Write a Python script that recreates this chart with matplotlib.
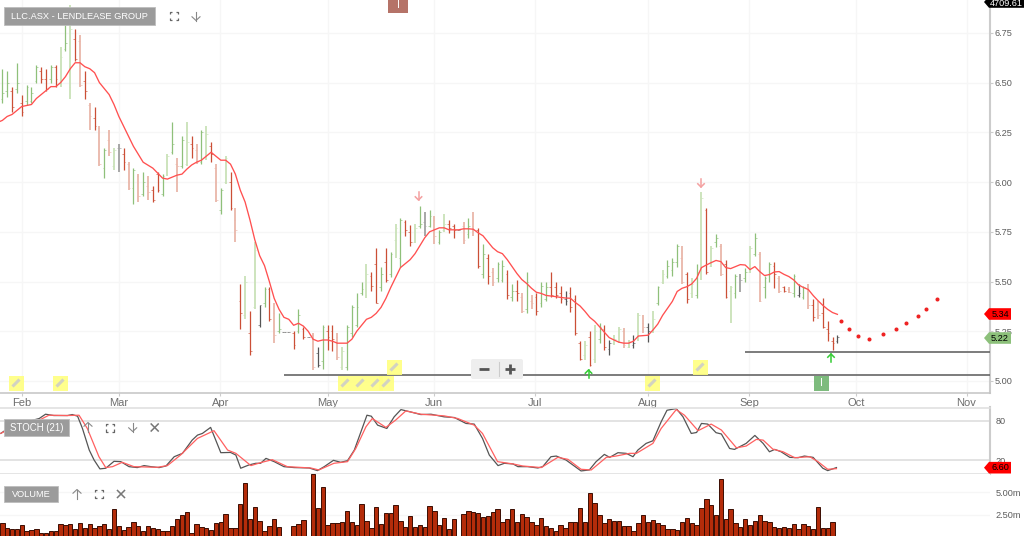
import numpy as np
import matplotlib
matplotlib.use("Agg")
import matplotlib.pyplot as plt
from matplotlib.patches import Rectangle, Polygon, FancyBboxPatch

plt.rcParams['font.family'] = ['Liberation Sans', 'DejaVu Sans']

# daily bars
high = [6.57,6.56,6.48,6.60,6.44,6.49,6.48,6.59,6.58,6.57,6.59,6.59,6.68,6.80,6.89,6.77,6.74,6.56,6.40,6.38,
        6.28,6.17,6.26,6.17,6.19,6.17,6.10,6.07,6.04,6.05,6.03,5.98,6.05,6.04,6.14,6.30,6.12,6.23,6.30,6.23,
        6.19,6.26,6.28,6.20,6.09,5.97,6.13,6.05,5.87,5.49,5.53,5.35,5.70,5.38,5.47,5.47,5.39,5.34,5.245,5.245,
        5.25,5.36,5.27,5.22,5.24,5.17,5.28,5.28,5.28,5.24,5.17,5.28,5.38,5.44,5.50,5.59,5.55,5.67,5.575,5.67,
        5.65,5.79,5.82,5.81,5.785,5.79,5.88,5.85,5.86,5.83,5.76,5.84,5.81,5.79,5.76,5.80,5.82,5.85,5.77,5.69,
        5.64,5.57,5.60,5.61,5.56,5.49,5.51,5.44,5.55,5.43,5.44,5.50,5.50,5.55,5.50,5.48,5.45,5.47,5.43,5.20,
        5.20,5.25,5.28,5.29,5.28,5.205,5.23,5.27,5.265,5.205,5.23,5.34,5.33,5.29,5.35,5.48,5.56,5.61,5.62,5.69,
        5.68,5.55,5.52,5.59,5.95,5.87,5.68,5.74,5.69,5.61,5.48,5.54,5.54,5.57,5.68,5.745,5.65,5.53,5.60,5.60,
        5.53,5.48,5.47,5.54,5.49,5.48,5.49,5.41,5.40,5.415,5.30,5.22,5.23]
low = [6.40,6.43,6.35,6.45,6.33,6.39,6.40,6.50,6.50,6.46,6.50,6.48,6.48,6.66,6.42,6.61,6.48,6.42,6.26,6.26,
       6.08,6.02,6.13,6.06,6.05,6.06,5.96,5.89,5.90,5.93,5.91,5.90,5.95,5.93,6.03,6.14,5.95,6.07,6.08,6.12,
       6.09,6.09,6.11,6.10,5.90,5.84,5.99,5.86,5.70,5.26,5.31,5.13,5.36,5.27,5.37,5.30,5.19,5.24,5.245,5.245,
       5.16,5.24,5.21,5.22,5.055,5.07,5.06,5.155,5.15,5.105,5.055,5.055,5.22,5.27,5.43,5.415,5.45,5.39,5.45,5.50,
       5.525,5.62,5.575,5.73,5.68,5.695,5.77,5.73,5.775,5.69,5.69,5.75,5.745,5.72,5.76,5.69,5.72,5.73,5.57,5.52,
       5.49,5.48,5.50,5.50,5.41,5.40,5.40,5.34,5.34,5.36,5.33,5.37,5.40,5.42,5.415,5.39,5.38,5.345,5.23,5.105,
       5.105,5.075,5.09,5.19,5.155,5.13,5.18,5.19,5.165,5.165,5.165,5.20,5.24,5.195,5.24,5.38,5.49,5.52,5.53,5.575,
       5.49,5.39,5.415,5.415,5.51,5.54,5.575,5.675,5.53,5.415,5.29,5.415,5.445,5.50,5.545,5.63,5.395,5.415,5.50,5.465,
       5.44,5.445,5.44,5.42,5.42,5.41,5.36,5.30,5.31,5.265,5.20,5.155,5.19]
opens = [6.42,6.46,6.46,6.47,6.40,6.41,6.41,6.51,6.56,6.52,6.52,6.58,6.50,6.67,6.48,6.72,6.71,6.51,6.39,6.32,
         6.27,6.07,6.21,6.08,6.17,6.14,6.09,5.97,6.03,5.94,5.98,5.96,6.04,5.94,6.04,6.15,6.09,6.08,6.09,6.19,
         6.16,6.10,6.13,6.18,6.07,5.86,6.00,6.00,5.81,5.40,5.33,5.24,5.37,5.28,5.39,5.46,5.34,5.25,5.245,5.245,
         5.24,5.25,5.26,5.22,5.23,5.14,5.10,5.25,5.25,5.22,5.07,5.07,5.24,5.28,5.44,5.43,5.53,5.59,5.47,5.60,
         5.54,5.71,5.62,5.80,5.75,5.70,5.78,5.80,5.78,5.81,5.70,5.76,5.79,5.78,5.76,5.78,5.74,5.78,5.76,5.54,
         5.62,5.55,5.52,5.51,5.54,5.42,5.45,5.42,5.36,5.40,5.42,5.39,5.41,5.47,5.47,5.44,5.41,5.44,5.41,5.19,
         5.13,5.22,5.11,5.21,5.26,5.16,5.19,5.20,5.25,5.17,5.18,5.21,5.29,5.27,5.25,5.39,5.50,5.53,5.56,5.60,
         5.62,5.54,5.44,5.43,5.69,5.86,5.58,5.70,5.68,5.59,5.45,5.44,5.53,5.52,5.55,5.64,5.64,5.47,5.54,5.58,
         5.52,5.47,5.46,5.44,5.43,5.42,5.47,5.38,5.36,5.34,5.26,5.20,5.20]
closes = [6.45,6.50,6.38,6.50,6.35,6.48,6.45,6.58,6.52,6.47,6.58,6.52,6.63,6.70,6.77,6.62,6.49,6.46,6.33,6.28,
          6.09,6.16,6.15,6.16,6.17,6.10,5.97,6.06,5.93,6.00,5.95,5.91,5.96,6.03,6.13,6.19,6.08,6.21,6.20,6.17,
          6.10,6.25,6.24,6.14,5.91,5.96,6.12,5.87,5.76,5.34,5.50,5.15,5.66,5.38,5.46,5.31,5.23,5.26,5.245,5.245,
          5.18,5.33,5.22,5.22,5.07,5.08,5.27,5.22,5.21,5.12,5.15,5.27,5.37,5.37,5.46,5.54,5.48,5.39,5.54,5.51,
          5.64,5.77,5.81,5.76,5.70,5.77,5.79,5.78,5.83,5.73,5.75,5.79,5.77,5.76,5.76,5.71,5.78,5.76,5.58,5.64,
          5.53,5.50,5.59,5.58,5.43,5.45,5.44,5.35,5.50,5.39,5.35,5.48,5.47,5.43,5.43,5.41,5.40,5.37,5.24,5.11,
          5.18,5.08,5.25,5.27,5.17,5.19,5.21,5.26,5.18,5.20,5.19,5.33,5.27,5.25,5.31,5.47,5.54,5.58,5.60,5.68,
          5.50,5.41,5.49,5.55,5.92,5.55,5.67,5.72,5.54,5.42,5.47,5.53,5.51,5.55,5.67,5.72,5.40,5.52,5.59,5.54,
          5.45,5.45,5.445,5.53,5.44,5.47,5.38,5.32,5.33,5.27,5.24,5.19,5.22]
ma_line = [6.30,6.31,6.33,6.34,6.36,6.38,6.385,6.39,6.42,6.44,6.46,6.48,6.48,6.50,6.53,6.57,6.60,6.60,6.58,6.57,6.55,
           6.50,6.47,6.44,6.39,6.33,6.28,6.23,6.18,6.14,6.10,6.085,6.07,6.045,6.02,6.015,6.025,6.035,6.04,6.065,6.086,
           6.10,6.11,6.13,6.15,6.13,6.11,6.11,6.09,6.04,5.96,5.90,5.81,5.71,5.63,5.58,5.50,5.415,5.36,5.32,5.31,
           5.28,5.29,5.276,5.25,5.21,5.20,5.206,5.206,5.20,5.19,5.19,5.19,5.21,5.25,5.28,5.31,5.32,5.34,5.37,5.415,
           5.47,5.52,5.57,5.59,5.61,5.64,5.68,5.72,5.75,5.76,5.77,5.77,5.76,5.76,5.76,5.765,5.765,5.763,5.745,5.73,
           5.70,5.67,5.65,5.64,5.61,5.575,5.54,5.51,5.49,5.466,5.446,5.44,5.43,5.427,5.424,5.42,5.417,5.416,5.395,5.377,
           5.35,5.32,5.30,5.273,5.245,5.218,5.206,5.195,5.19,5.19,5.20,5.226,5.228,5.23,5.256,5.286,5.33,5.365,5.40,5.45,
           5.466,5.474,5.488,5.516,5.57,5.583,5.595,5.606,5.60,5.57,5.565,5.575,5.585,5.583,5.56,5.575,5.55,5.53,5.535,5.548,
           5.55,5.536,5.525,5.508,5.483,5.47,5.46,5.43,5.404,5.38,5.36,5.344,5.335]
forecast_day = [172.7,174.4,176.3,178.6,181.3,184.1,186.2,188.6,190.3,192.5]
forecast_price = [5.303,5.263,5.228,5.21,5.236,5.26,5.29,5.328,5.364,5.41]
support_levels = [5.03, 5.146]
support_start = [58, 153]

volume = [1.53,1.04,.86,.86,1.38,.63,.74,.86,.48,.41,.63,.67,1.45,1.38,1.45,.93,1.53,1.0,1.45,1.0,
          1.26,1.45,.93,3.09,1.23,.74,1.15,1.71,1.23,.63,1.23,1.0,.93,.63,.71,1.19,2.05,2.45,2.79,.41,
          1.45,1.15,1.04,.74,1.53,1.71,2.57,1.0,1.0,3.65,6.07,1.97,3.31,1.82,.63,1.19,1.97,1.12,0,0,
          1.19,1.49,1.86,0,7.0,3.2,5.54,1.34,1.53,1.53,1.71,2.9,1.64,1.3,3.65,1.79,1.04,3.31,1.45,2.64,
          2.64,3.57,1.82,1.15,2.31,1.08,1.3,1.12,3.5,2.9,1.3,2.16,.93,1.97,0,2.53,2.9,2.79,2.72,2.2,
          2.34,2.75,3.09,1.71,1.97,3.16,1.67,2.57,2.2,1.64,1.3,2.16,1.19,.97,.67,1.38,.97,1.71,1.64,3.2,
          1.71,4.95,3.83,2.45,1.53,1.97,1.82,1.79,1.19,1.19,.71,1.53,2.49,1.67,1.86,1.53,1.3,.93,.93,.74,
          1.71,2.16,1.53,1.3,3.24,4.28,3.53,2.42,6.44,1.97,3.09,1.53,1.08,1.97,1.3,1.79,2.49,1.79,1.71,1.12,
          .97,1.12,.97,1.45,.93,1.45,1.19,.86,3.31,1.04,1.04,1.64,0]

stoch_k_day = [-0.3,0.7,3.8,7.6,8.9,10.6,13.4,14.4,15.5,16.5,17.9,18.9,20.1,21.3,23,24.4,26.1,27.8,29.2,30.6,32.3,33.7,
               35.4,37.1,39.1,40.2,41.2,42.9,45,47,48.1,49.1,50.8,52.2,53.2,54.3,56,58,60.1,63.2,64.9,66.3,68.2,69.7,
               71.1,72.5,75.1,76,77.3,79.2,80.7,82.1,83.8,86.2,88.3,91,93.1,95.5,97.2,98.9,100.3,102.1,103.4,105.2,
               106.2,108.2,110.3,111.3,113,114.1,116.1,119.2,120.9,122.3,124,125.1,126.8,128.5,129.9,130.9,132.6,134,
               135.7,136.9,138.8,140.2,141.9,143,144,145.3,147,148.1,149.8,150.8,153.2,155,156.7,158,159.1,160.4,162.2,
               163.9,165.2,167,169,170,171.8]
stoch_k = [61,66,76,83.5,90,88,88,89.5,87,68.4,35.6,20.5,7,8,18.5,18,10.4,9,12,10.4,9,11.4,
           25.5,30.6,50.7,58.3,60.8,70,31.6,32,28,8,13,15.5,15.5,23,18,10.4,9,8.4,4.4,10.4,20,17,
           19.5,35.6,88.5,87,73.4,68.4,86,97,94,89.5,90,86,85,76,75,53.3,28,12,15.5,14.5,
           10.4,10.4,8.4,10.4,25.5,26.5,20.5,3.9,5.4,18,29,24.5,31.6,30.6,25.5,35.6,45.7,49.7,
           78.5,96,98.6,86,60.8,62.3,76,75,62,60,38,36.6,45.7,57.8,45.7,33,36.6,33,24.5,
           24,26.5,24.5,8,4.4,9]
stoch_d_day = [-0.3,1.7,7.6,9.6,13.4,15.8,17.5,19.9,21.3,22.7,24.7,27.1,31.9,34,36.7,40.2,43.6,46.4,48.1,51.2,53.2,55.6,
               58.7,63.5,65.2,68.3,71.1,72.8,74.9,76.2,79,81,83.1,86.2,91,93.8,97.2,98.9,102,105.2,107.2,111,114.4,
               116.5,119.2,121.3,124.4,126.4,129.2,130.6,134,135.7,138.8,140.5,143.3,146,148.1,151.2,153.2,155.3,
               156.7,158.7,160.8,163.2,166.3,168,170,171.8]
stoch_d = [61,68.4,81,88.5,88,88.5,68.4,25.5,9,10.4,17,10.4,9.4,12,28,53.3,65,35.6,30.6,12,16.5,21,
           10.4,8.4,5.4,15.5,18,38,71,83.5,70,81,95,90,87.5,83.5,73.4,60.8,18,14.5,11.4,9,24.5,
           21.5,6.4,5.4,24.5,26.5,30.6,30.6,45.7,68.4,97,88.5,65,75,66,39,41.7,51.8,
           50.7,37,33,24,25.5,18,6.4,7.4]

month_labels = ['Feb','Mar','Apr','May','Jun','Jul','Aug','Sep','Oct','Nov']
month_days = [3.99,24,44.9,67,88.9,109.8,132.9,153.8,175.8,198.6]
price_ticks = [5.0,5.25,5.5,5.75,6.0,6.25,6.5,6.75]

# bars drawn paler / neutral on the source chart
soft_bars = {12,14,16,18,20,22,23,24,26,28,30,34,36,38,40,42,44,46,48,50,52,56,64,69,70,75,81,85,87,89,91,95,97,101,
             107,109,120,122,126,127,128,129,131,132,134,136,140,142,144,146,148,150,152,154,156,160,162,166,168}
neutral_bars = {24,53,58,59,63,65,87,94,116,125,130,133,152,164,172}

W, H = 1024, 536
XLIM = (-0.48, 203.43)
GRID = '#f6f6f6'
AXIS = '#cccccc'
TXT = '#6e6e6e'


def pane(top, bottom):
    return plt.gcf().add_axes([0, 1 - bottom / H, 990 / W, (bottom - top) / H])


fig = plt.figure(figsize=(W / 100, H / 100), dpi=100)

# ---- price pane ----
ax = pane(0, 392.7)
ax.set_xlim(*XLIM)
ax.set_ylim(4.941, 6.9155)
for d in month_days:
    ax.axvline(d, color=GRID, lw=1, zorder=0)
for p in price_ticks:
    ax.axhline(p, color=GRID, lw=1, zorder=0)

for i in range(len(high)):
    if i in neutral_bars:
        col = '#a0a0a0' if i in soft_bars else '#555555'
    elif closes[i] >= opens[i]:
        col = '#c9e2b8' if i in soft_bars else '#8fc07a'
    else:
        col = '#e9b6a9' if i in soft_bars else '#cb4f36'
    lw = 1.3 if i in soft_bars else 0.9
    if high[i] > low[i]:
        ax.vlines(i, low[i], high[i], color=col, lw=lw, zorder=2)
    ax.hlines(opens[i], i - 0.35, i, color=col, lw=0.6, alpha=0.75, zorder=2)
    ax.hlines(closes[i], i, i + 0.35, color=col, lw=0.6, alpha=0.75, zorder=2)

ax.plot(np.arange(-1, len(ma_line) - 1), ma_line, color='#ff5050', lw=0.95, zorder=3)
ax.plot(forecast_day, forecast_price, ls='none', marker='o', ms=1.9, color='#ee2222', zorder=3)
for lvl, start in zip(support_levels, support_start):
    ax.hlines(lvl, start, XLIM[1], color='#666666', lw=1.2, zorder=4)

ax.set_xticks(month_days)
ax.set_xticklabels(month_labels, fontsize=8, color=TXT)
ax.set_yticks(price_ticks)
ax.set_yticklabels([f'{p:.2f}' for p in price_ticks], fontsize=6.6, color='#5c5c5c')
ax.yaxis.tick_right()
ax.tick_params(axis='x', length=2, width=0.8, color=AXIS, pad=1.5)
ax.tick_params(axis='y', length=2, width=0.8, color=AXIS, pad=1.5)
for s in ['top', 'left']:
    ax.spines[s].set_visible(False)
ax.spines['right'].set_color(AXIS)
ax.spines['right'].set_linewidth(1.5)
ax.spines['bottom'].set_color('#c4c4c4')
ax.spines['bottom'].set_linewidth(1.1)

# ---- stochastic pane ----
ax2 = pane(407.5, 474.3)
ax2.set_xlim(*XLIM)
ax2.set_ylim(-1.2, 100.2)
for lvl in [20, 80]:
    ax2.axhline(lvl, color='#dedede', lw=1.2, zorder=0)
ax2.plot(stoch_k_day, stoch_k, color='#555555', lw=0.9, zorder=2)
ax2.plot(stoch_d_day, stoch_d, color='#ff6060', lw=0.9, zorder=3)
ax2.set_xticks([])
ax2.set_yticks([20, 80])
ax2.set_yticklabels(['20', '80'], fontsize=6.6, color='#5c5c5c')
ax2.yaxis.tick_right()
ax2.tick_params(axis='y', length=0, pad=4)
ax2.spines['left'].set_visible(False)
for s in ['top', 'bottom']:
    ax2.spines[s].set_color('#dedede')
    ax2.spines[s].set_linewidth(1.1)
ax2.spines['right'].set_color(AXIS)
ax2.spines['right'].set_linewidth(1.5)

# ---- volume pane ----
ax3 = pane(474, 536)
ax3.set_xlim(*XLIM)
ax3.set_ylim(0.11, 7.03)
for lvl in [2.5, 5.0]:
    ax3.axhline(lvl, color=GRID, lw=1, zorder=0)
ax3.bar(np.arange(len(volume)), volume, width=0.9, color='#b42c0a', edgecolor='#3b0d02', linewidth=0.7, zorder=2)
ax3.set_xticks([])
ax3.set_yticks([2.5, 5.0])
ax3.set_yticklabels(['2.50m', '5.00m'], fontsize=6.6, color='#5c5c5c')
ax3.yaxis.tick_right()
ax3.tick_params(axis='y', length=0, pad=4)
for s in ax3.spines.values():
    s.set_visible(False)

# ---- overlay in pixel coordinates: badges, icons, tags ----
ov = fig.add_axes([0, 0, 1, 1], zorder=10)
ov.set_xlim(0, W)
ov.set_ylim(H, 0)
ov.axis('off')
ov.patch.set_alpha(0)


def badge(x0, y0, x1, y1, label, size):
    ov.add_patch(Rectangle((x0, y0), x1 - x0, y1 - y0, fc='#9b9b9b', ec='#bdbdbd', lw=0.6))
    ov.text((x0 + x1) / 2, (y0 + y1) / 2 + 0.3, label, color='white', fontsize=size, ha='center', va='center')


def frame_icon(x, y):
    r, c = 4, 2.2
    for sx in (-1, 1):
        for sy in (-1, 1):
            ov.plot([x + sx * r, x + sx * r, x + sx * (r - c)],
                    [y + sy * (r - c), y + sy * r, y + sy * r], color='#666666', lw=0.9, solid_capstyle='butt')


def arrow_icon(x, y, up):
    sign = -1 if up else 1
    ov.plot([x, x], [y - sign * 4.5, y + sign * 4.5], color='#888888', lw=0.8)
    ov.plot([x - 4, x, x + 4], [y + sign * 0.8, y + sign * 4.5, y + sign * 0.8], color='#888888', lw=0.8)


def close_icon(x, y):
    ov.plot([x - 3.5, x + 3.5], [y - 3.5, y + 3.5], color='#777777', lw=1.1)
    ov.plot([x - 3.5, x + 3.5], [y + 3.5, y - 3.5], color='#777777', lw=1.1)


def tag(x0, x1, y, fc, label, tc='black', half=5.8, ty=None):
    ov.add_patch(Polygon([(x0, y), (x0 + 5, y - half), (x1, y - half), (x1, y + half), (x0 + 5, y + half)],
                         closed=True, fc=fc, ec='none'))
    ov.text((x0 + x1) / 2 + 2.5, y + 0.2 if ty is None else ty, label, color=tc, fontsize=6.6, ha='center', va='center')


def pencil(x, y):
    ov.add_patch(Rectangle((x - 7.5, y - 7.5), 15, 15, fc='#ffff80', ec='none', alpha=0.9))
    ov.plot([x - 3.5, x + 3.5], [y + 3.5, y - 3.5], color='#d2d2c2', lw=2.2, solid_capstyle='butt')


def signal_arrow(x, y, up, col):
    sign = -1 if up else 1
    ov.plot([x, x], [y - sign * 4, y + sign * 4], color=col, lw=1.1)
    ov.plot([x - 3.2, x, x + 3.2], [y + sign * 0.8, y + sign * 4, y + sign * 0.8], color=col, lw=1.1)


badge(4, 7, 155, 25, 'LLC.ASX - LENDLEASE GROUP', 6.7)
frame_icon(173.7, 16)
arrow_icon(196, 16, up=False)

badge(4, 419, 69, 436, 'STOCH (21)', 6.9)
arrow_icon(88, 427, up=True)
frame_icon(110, 427.5)
arrow_icon(132.7, 427, up=False)
close_icon(154.7, 427.5)

badge(4, 486, 58, 502, 'VOLUME', 6.7)
arrow_icon(77, 494, up=True)
frame_icon(98.7, 494)
close_icon(121, 494)

for px, py in [(16, 383), (60, 383), (345, 383), (360, 383), (375, 383), (386, 383), (394, 367), (652, 383), (700, 367)]:
    pencil(px, py)

signal_arrow(418.5, 196, False, '#f4a0a0')
signal_arrow(701, 183, False, '#f4a0a0')
signal_arrow(588.5, 374, True, '#33cc33')
signal_arrow(831, 358, True, '#33cc33')

# "I" event flags
ov.add_patch(Rectangle((813.5, 376), 15.5, 15, fc='#7dbb7d', ec='none'))
ov.text(821.2, 383.5, 'I', color='white', fontsize=7.5, ha='center', va='center')
ov.add_patch(Rectangle((388, 0), 20, 13, fc='#b57368', ec='none'))
ov.text(398, 5, 'I', color='white', fontsize=7.5, ha='center', va='center')

# zoom control
ov.add_patch(FancyBboxPatch((472, 360), 50, 18, boxstyle='round,pad=1,rounding_size=2', fc='#eeeeee', ec='none'))
ov.plot([498.5, 498.5], [362, 376], color='#cccccc', lw=0.8)
ov.plot([478.5, 488.5], [368.5, 368.5], color='#555555', lw=2, solid_capstyle='butt')
ov.plot([505, 515], [368.5, 368.5], color='#555555', lw=2, solid_capstyle='butt')
ov.plot([510, 510], [363.5, 373.5], color='#555555', lw=2, solid_capstyle='butt')

# last value tags
tag(984, 1011, 314, '#ff0000', f'{ma_line[-1] + 0.005:.2f}')
tag(984, 1011, 338, '#8cc07a', f'{closes[-1]:.2f}')
tag(984, 1011, 467.7, '#ff0000', '6.60')
tag(984, 1024, 2, 'black', '4709.61', tc='white', ty=3.2)

fig.savefig('out.png', dpi=100)
